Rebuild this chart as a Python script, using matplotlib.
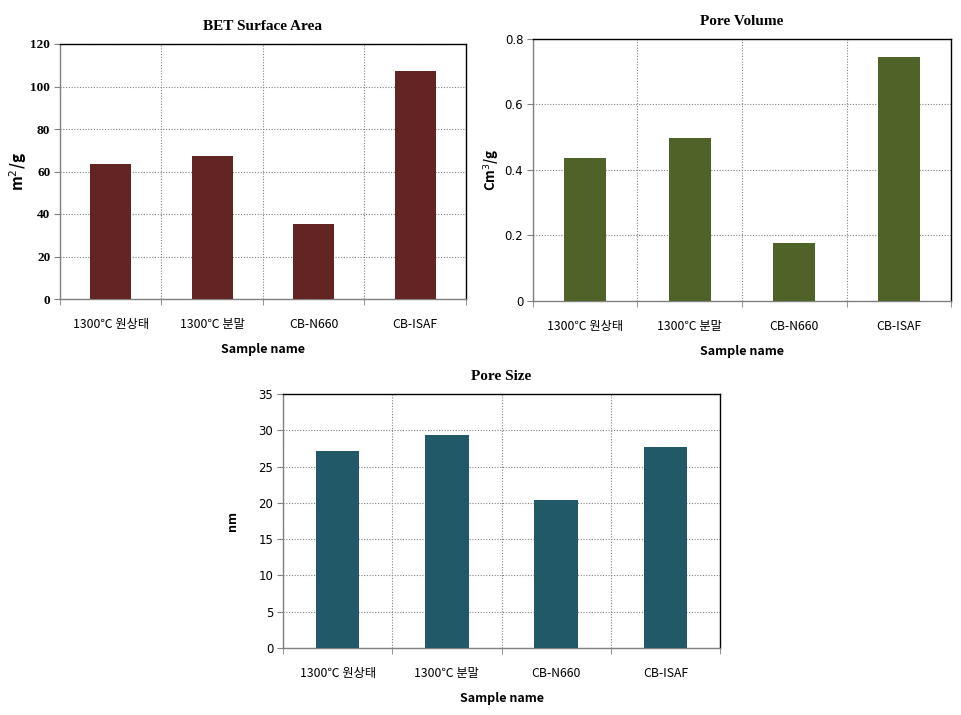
import matplotlib
matplotlib.use("Agg")
import matplotlib.pyplot as plt
import numpy as np

plt.rcParams['font.family'] = ['Noto Sans CJK KR', 'DejaVu Sans']

categories = ["1300℃ 원상태", "1300℃ 분말", "CB-N660", "CB-ISAF"]
bet_area = [63.5, 67.4, 35.4, 107.3]
pore_volume = [0.436, 0.498, 0.177, 0.744]
pore_size = [27.2, 29.3, 20.4, 27.7]

W, H = 962, 715
fig = plt.figure(figsize=(W / 100, H / 100), dpi=100)

def make_ax(l, t, r, b):
    return fig.add_axes([l / W, 1 - b / H, (r - l) / W, (b - t) / H])

def draw(ax, values, color, title, ylabel, ymax, ystep, yfmt, serif_ticks, ylpad, ylsize):
    x = np.arange(len(categories))
    ax.bar(x, values, width=0.4, color=color, zorder=3)
    ax.set_xlim(-0.5, len(categories) - 0.5)
    ax.set_ylim(0, ymax)
    ax.set_yticks(np.arange(0, ymax + ystep / 2, ystep))
    ax.set_yticklabels([yfmt(v) for v in np.arange(0, ymax + ystep / 2, ystep)])
    ax.set_xticks(x)
    ax.set_xticklabels(categories, fontsize=8.8)
    ax.set_xticks(np.arange(-0.5, len(categories)), minor=True)
    ax.tick_params(axis='x', which='major', length=0, pad=14)
    ax.tick_params(axis='x', which='minor', length=4, direction='out', color='#808080')
    ax.tick_params(axis='y', length=4, direction='out', color='#808080', pad=3)
    ax.grid(True, axis='y', linestyle=(0, (1, 1.5)), color='#808080', linewidth=0.8, zorder=0)
    ax.grid(True, axis='x', which='minor', linestyle=(0, (1, 1.5)), color='#808080', linewidth=0.8, zorder=0)
    for s in ['top', 'right']:
        ax.spines[s].set_color('black')
        ax.spines[s].set_linewidth(1.0)
    for s in ['left', 'bottom']:
        ax.spines[s].set_color('#808080')
        ax.spines[s].set_linewidth(1.0)
    for lbl in ax.get_yticklabels():
        if serif_ticks:
            lbl.set_fontfamily('Liberation Serif')
            lbl.set_fontweight('bold')
            lbl.set_fontsize(9.5)
        else:
            lbl.set_fontfamily('DejaVu Sans')
            lbl.set_fontsize(8.5)
    ax.set_title(title, fontfamily='Liberation Serif', fontweight='bold', fontsize=11, pad=10)
    ax.set_xlabel("Sample name", fontweight='bold', fontsize=9, labelpad=8)
    ax.set_ylabel(ylabel, fontweight='bold', fontsize=ylsize, labelpad=ylpad)

ax1 = make_ax(60, 44, 466, 299)
draw(ax1, bet_area, '#632523', 'BET Surface Area', 'm$^2$/g', 120, 20,
     lambda v: f"{int(v)}", True, 1, 11)

ax2 = make_ax(533, 39, 951, 301)
draw(ax2, pore_volume, '#4F6228', 'Pore Volume', 'Cm$^3$/g', 0.8, 0.2,
     lambda v: "0" if v == 0 else f"{v:.1f}", False, 2, 9.5)

ax3 = make_ax(283, 394, 720, 648)
draw(ax3, pore_size, '#215968', 'Pore Size', 'nm', 35, 5,
     lambda v: f"{int(v)}", False, 14, 9)

fig.savefig("out.png", dpi=100)
